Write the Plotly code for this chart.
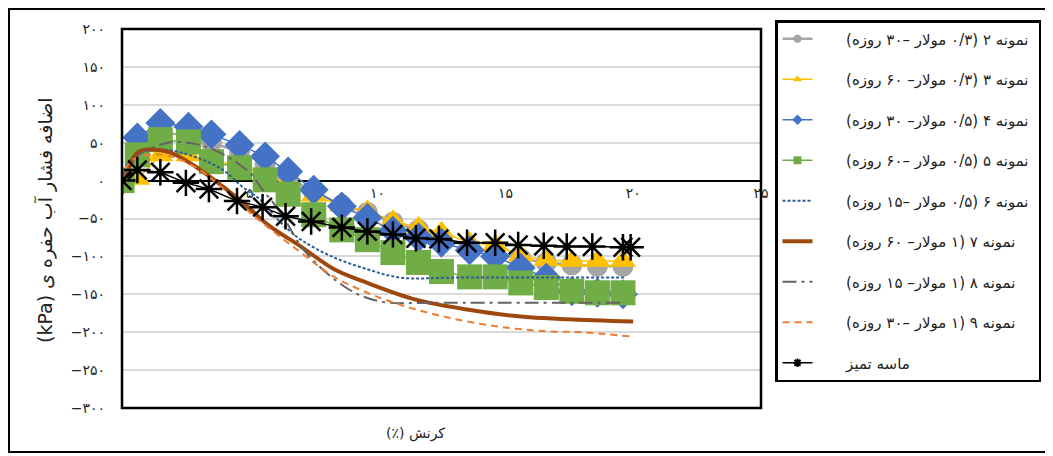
import plotly.graph_objects as go

# ---------------- data ----------------
strain_m = [0, 0.6, 1.5, 2.6, 3.5, 4.6, 5.6, 6.5, 7.5, 8.6, 9.6, 10.6, 11.6,
            12.5, 13.6, 14.6, 15.6, 16.6, 17.6, 18.6, 19.6]
s2_values = [0, 45, 63, 60, 50, 38, 22, 5, -15, -32, -42, -55, -65, -75, -88,
             -95, -103, -108, -111, -113, -113]
s3_values = [0, 2, 33, 33, 27, 20, 8, -5, -20, -33, -40, -53, -62, -68, -82,
             -85, -99, -105, -106, -106, -106]
s4_values = [0, 57, 76, 71, 61, 47, 32, 12, -12, -34, -49, -66, -75, -82, -92,
             -100, -115, -128, -146, -148, -150]
s5_values = [0, 34, 54, 51, 25, 17, 1, -18, -45, -65, -78, -95, -108, -120,
             -127, -127, -135, -141, -146, -148, -148]

strain_clean = [0, 0.6, 1.5, 2.5, 3.4, 4.5, 5.5, 6.4, 7.4, 8.6, 9.6, 10.6, 11.5,
                12.4, 13.5, 14.6, 15.5, 16.5, 17.4, 18.4, 19.6, 19.9]
clean_values = [0, 14, 11, -3, -11, -27, -35, -47, -54, -62, -67, -71, -76,
                -77, -82, -82, -85, -86, -87, -87, -88, -88]

strain_s6 = [0, 0.43, 1.5, 2.8, 3.95, 4.7, 5.4, 6.2, 7.0, 8.2, 9.6, 10.9, 13, 16, 19.7]
s6_values = [0, 32, 41, 32, 14, -8, -25, -55, -78, -100, -117, -128, -128, -128, -128]

strain_s7 = [0, 0.2, 0.6, 1.1, 1.9, 2.9, 3.95, 4.9, 5.7, 7.0, 8.3, 9.6, 11.5,
             13.5, 15.5, 17.4, 20]
s7_values = [0, 11, 37, 41, 37, 18, -8, -34, -58, -87, -117, -135, -157,
             -170, -179, -183, -186]

strain_s8 = [0, 0.5, 1.8, 3.05, 4.1, 5.0, 5.5, 6.2, 7.2, 8.9, 10.2, 12.2, 19.5]
s8_values = [0, 30, 50, 47, 32, 10, -12, -42, -95, -144, -160, -161, -161]

strain_s9 = [0, 0.3, 1.0, 1.9, 3.05, 4.0, 5.1, 7.0, 8.3, 9.6, 10.9, 12.8, 14.8,
             16.7, 18.0, 20.0]
s9_values = [0, 24, 34, 32, 14, -12, -45, -95, -127, -148, -164, -181, -193,
             -199, -200, -206]

names = [
    "نمونه ۲ (۰/۳ مولار –۳۰ روزه)",
    "نمونه ۳ (۰/۳ مولار– ۶۰ روزه)",
    "نمونه ۴ (۰/۵ مولار– ۳۰ روزه)",
    "نمونه ۵ (۰/۵ مولار –۶۰ روزه)",
    "نمونه ۶ (۰/۵ مولار –۱۵ روزه)",
    "نمونه ۷ (۱ مولار– ۶۰ روزه)",
    "نمونه ۸ (۱ مولار– ۱۵ روزه)",
    "نمونه ۹ (۱ مولار –۳۰ روزه)",
    "ماسه تمیز",
]

y_tickvals = [200, 150, 100, 50, 0, -50, -100, -150, -200, -250, -300]
y_ticktext = ["۲۰۰", "۱۵۰", "۱۰۰", "۵۰", "۰", "−۵۰", "−۱۰۰", "−۱۵۰",
              "−۲۰۰", "−۲۵۰", "−۳۰۰"]
x_tickvals = [0, 5, 10, 15, 20, 25]
x_ticktext = ["۰", "۵", "۱۰", "۱۵", "۲۰", "۲۵"]

y_title = "اضافه فشار آب حفره ی (kPa)"
x_title = "کرنش (٪)"


def rtl(s):
    return "\u202b" + s + "\u202c"


def legend_name(s):
    return "\u00a0" * 6 + rtl(s) + "\u00a0"


fig = go.Figure()

marker_series = [
    (strain_m, s2_values, "#A5A5A5", "circle", 21, 2.5),
    (strain_m, s3_values, "#FFC000", "triangle-up", 23, 1.5),
    (strain_m, s4_values, "#4472C4", "diamond", 23, 1.5),
    (strain_m, s5_values, "#70AD47", "square", 25, 1.5),
]
line_series = [
    (strain_s6, s6_values, "#2E5C96", 2, "3px,2px"),
    (strain_s7, s7_values, "#9E480E", 4, "solid"),
    (strain_s8, s8_values, "#636363", 2, "14px,5px,3px,5px"),
    (strain_s9, s9_values, "#ED7D31", 2, "7px,5px"),
]

# plotted traces (legend entries are added separately with small markers)
for i, (xs, ys, col, sym, sz, lw) in enumerate(marker_series):
    fig.add_trace(go.Scatter(
        x=xs, y=ys, mode="lines+markers", showlegend=False,
        line=dict(color=col, width=lw),
        marker=dict(symbol=sym, size=sz, color=col),
    ))
for xs, ys, col, lw, dash in line_series:
    fig.add_trace(go.Scatter(
        x=xs, y=ys, mode="lines", showlegend=False,
        line=dict(color=col, width=lw, dash=dash, shape="spline", smoothing=1.0),
    ))
fig.add_trace(go.Scatter(
    x=strain_clean, y=clean_values, mode="lines+markers", showlegend=False,
    line=dict(color="black", width=1.5),
    marker=dict(symbol="asterisk-open", size=22, color="black",
                line=dict(color="black", width=2.5)),
))

# legend entries
for i, (xs, ys, col, sym, sz, lw) in enumerate(marker_series):
    fig.add_trace(go.Scatter(
        x=[None], y=[None], mode="lines+markers", name=legend_name(names[i]),
        legendgroup=f"g{i}",
        line=dict(color=col, width=lw),
        marker=dict(symbol=sym, size=8, color=col),
    ))
for j, (xs, ys, col, lw, dash) in enumerate(line_series):
    i = j + 4
    fig.add_trace(go.Scatter(
        x=[None], y=[None], mode="lines", name=legend_name(names[i]),
        legendgroup=f"g{i}",
        line=dict(color=col, width=lw, dash=dash),
    ))
fig.add_trace(go.Scatter(
    x=[None], y=[None], mode="lines+markers", name=legend_name(names[8]),
    legendgroup="g8",
    line=dict(color="black", width=1.5),
    marker=dict(symbol="asterisk-open", size=7, color="black",
                line=dict(color="black", width=2)),
))

# page body has an 8px margin; figure is sized so reference pixels line up
OFF = 8
W, H = 1045, 448
L, T = 122 - OFF, 29 - OFF
R = W - (761 - OFF)
B = H - (408 - OFF)
pw, ph = W - L - R, H - T - B


def px_x(p):
    return (p - OFF - L) / pw


def px_y(p):
    return (H - B - (p - OFF)) / ph


fig.update_layout(
    width=W, height=H,
    margin=dict(l=L, r=R, t=T, b=B, autoexpand=False),
    paper_bgcolor="white", plot_bgcolor="white",
    font=dict(family="DejaVu Sans", size=14, color="#222222"),
    showlegend=True,
    legend=dict(
        x=px_x(775), y=px_y(20), xanchor="left", yanchor="top",
        bordercolor="black", borderwidth=2.5, bgcolor="white",
        font=dict(size=15, color="#222222"),
        traceorder="grouped", tracegroupgap=18, itemsizing="trace",
        maxheight=400,
    ),
    xaxis=dict(
        range=[0, 25], tickvals=x_tickvals, ticktext=x_ticktext,
        anchor="free", position=0.6, showline=True, linecolor="black",
        linewidth=2, showgrid=False, zeroline=False, ticks="",
        layer="below traces", tickfont=dict(size=14, color="#222222"),
    ),
    yaxis=dict(
        range=[-300, 200], tickvals=y_tickvals, ticktext=y_ticktext,
        showgrid=True, gridcolor="#D9D9D9", gridwidth=1.5, zeroline=False,
        showline=False, ticks="", ticklabelstandoff=16,
        tickfont=dict(size=14, color="#222222"),
    ),
    shapes=[
        dict(type="rect", xref="paper", yref="paper", x0=0, x1=1, y0=0, y1=1,
             line=dict(color="black", width=2.5), layer="above"),
        dict(type="rect", xref="paper", yref="paper",
             x0=px_x(9), x1=px_x(1047), y0=px_y(452), y1=px_y(9),
             line=dict(color="black", width=2)),
    ],
    annotations=[
        dict(text=rtl(y_title), xref="paper", yref="paper",
             x=px_x(45), y=px_y(220), xanchor="center", yanchor="middle",
             textangle=-90, showarrow=False,
             font=dict(size=19, color="#222222")),
        dict(text=rtl(x_title), xref="paper", yref="paper",
             x=px_x(415), y=px_y(433), xanchor="center", yanchor="middle",
             showarrow=False, font=dict(size=14, color="#222222")),
    ],
)

fig.write_html("out.html")
